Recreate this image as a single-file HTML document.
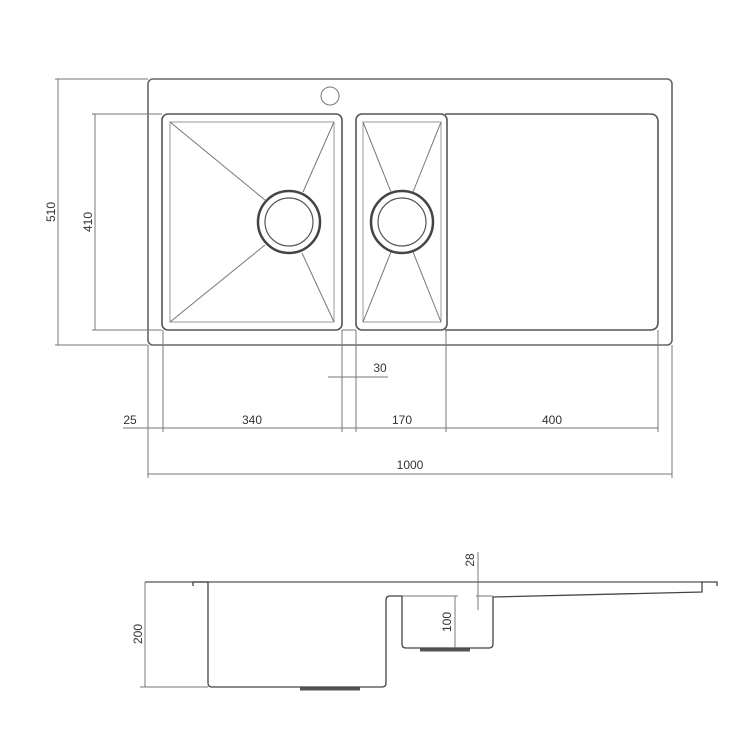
<!DOCTYPE html>
<html><head><style>html,body{margin:0;padding:0;background:#fff}svg{display:block}</style></head>
<body>
<svg width="750" height="750" viewBox="0 0 750 750" xmlns="http://www.w3.org/2000/svg" font-family="'Liberation Sans', sans-serif" font-size="11" fill="none">
<g stroke="#777" stroke-width="1">
<rect x="148" y="79" width="524" height="266" rx="5" stroke="#666" stroke-width="1.6"/>
<circle cx="330" cy="96" r="9"/>
<rect x="162" y="114" width="180" height="216" rx="6" stroke="#555" stroke-width="1.6"/>
<rect x="170" y="122" width="164" height="200" stroke="#999"/>
<line x1="170" y1="122" x2="265" y2="200"/>
<line x1="170" y1="322" x2="265" y2="245"/>
<line x1="334" y1="122" x2="303" y2="192"/>
<line x1="334" y1="322" x2="302" y2="253"/>
<circle cx="289" cy="222" r="31" stroke="#444" stroke-width="2.5"/>
<circle cx="289" cy="222" r="24" stroke="#555" stroke-width="1.2"/>
<rect x="356" y="114" width="91" height="216" rx="6" stroke="#555" stroke-width="1.6"/>
<rect x="363" y="122" width="78" height="200" stroke="#999"/>
<line x1="363" y1="122" x2="391" y2="192"/>
<line x1="441" y1="122" x2="413" y2="192"/>
<line x1="363" y1="322" x2="391" y2="252"/>
<line x1="441" y1="322" x2="413" y2="252"/>
<circle cx="402" cy="222" r="31" stroke="#444" stroke-width="2.5"/>
<circle cx="402" cy="222" r="24" stroke="#555" stroke-width="1.2"/>
<path d="M445 114 H650 Q658 114 658 122 V322 Q658 330 650 330 H445" stroke="#555" stroke-width="1.6"/>
<line x1="342" y1="330" x2="356" y2="330"/>
<line x1="55" y1="79" x2="148" y2="79"/>
<line x1="55" y1="345" x2="148" y2="345"/>
<line x1="58" y1="79" x2="58" y2="345"/>
<line x1="92" y1="114" x2="162" y2="114"/>
<line x1="92" y1="330" x2="162" y2="330"/>
<line x1="95" y1="114" x2="95" y2="330"/>
<line x1="148" y1="345" x2="148" y2="478"/>
<line x1="672" y1="345" x2="672" y2="478"/>
<line x1="163" y1="330" x2="163" y2="432"/>
<line x1="342" y1="330" x2="342" y2="432"/>
<line x1="356" y1="330" x2="356" y2="432"/>
<line x1="446" y1="330" x2="446" y2="432"/>
<line x1="658" y1="330" x2="658" y2="432"/>
<line x1="123" y1="428" x2="658" y2="428"/>
<line x1="328" y1="377" x2="388" y2="377"/>
<line x1="148" y1="474" x2="672" y2="474"/>
<line x1="145" y1="582" x2="702" y2="582" stroke="#555" stroke-width="1.3"/>
<path d="M193 586 V582 H208 V683 Q208 687 212 687 H382 Q386 687 386 683 V600 Q386 596 390 596 H402 V644 Q402 648 406 648 H489 Q493 648 493 644 V597 L702 592 V582 H717 V586" stroke="#444" stroke-width="1.3"/>
<line x1="402" y1="596" x2="458" y2="596"/>
<line x1="476" y1="596" x2="493" y2="596"/>
<path d="M300 689 H360" stroke="#555" stroke-width="3"/>
<path d="M420 650 H470" stroke="#555" stroke-width="3"/>
<line x1="140" y1="687" x2="208" y2="687"/>
<line x1="145" y1="582" x2="145" y2="687"/>
<line x1="455" y1="596" x2="455" y2="648"/>
<line x1="478" y1="552" x2="478" y2="610"/>
</g>
<g fill="#333" font-size="12">
<text transform="translate(55,212) rotate(-90)" text-anchor="middle">510</text>
<text transform="translate(92,222) rotate(-90)" text-anchor="middle">410</text>
<text x="130" y="424" text-anchor="middle">25</text>
<text x="252" y="424" text-anchor="middle">340</text>
<text x="402" y="424" text-anchor="middle">170</text>
<text x="552" y="424" text-anchor="middle">400</text>
<text x="380" y="372" text-anchor="middle">30</text>
<text x="410" y="469" text-anchor="middle">1000</text>
<text transform="translate(142,634) rotate(-90)" text-anchor="middle">200</text>
<text transform="translate(451,622) rotate(-90)" text-anchor="middle">100</text>
<text transform="translate(474,560) rotate(-90)" text-anchor="middle">28</text>
</g>
</svg>
</body></html>
